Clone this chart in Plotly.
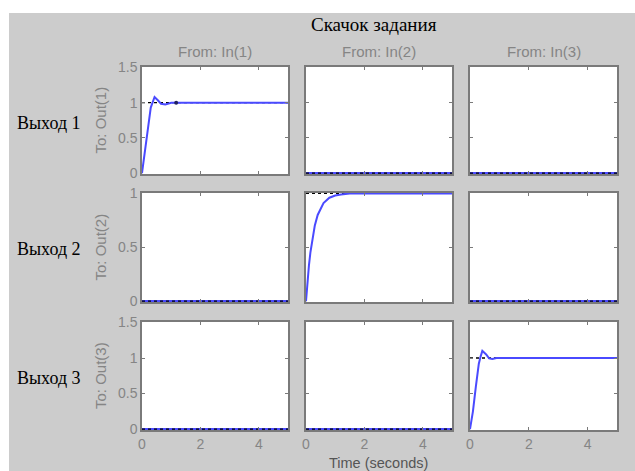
import plotly.graph_objects as go

# ---------------- data ----------------
title_text = "Скачок задания"
input_labels = ["From: In(1)", "From: In(2)", "From: In(3)"]
output_labels = ["To: Out(1)", "To: Out(2)", "To: Out(3)"]
row_names = ["Выход 1", "Выход 2", "Выход 3"]
x_title = "Time (seconds)"

# step responses
t_11 = [0, 0.1, 0.2, 0.3, 0.35, 0.43, 0.55, 0.65, 0.8, 1.0, 5.0]
y_11 = [0, 0.28, 0.62, 0.93, 1.0, 1.08, 1.03, 0.985, 0.975, 1.0, 1.0]

t_22 = [0, 0.02, 0.05, 0.1, 0.15, 0.2, 0.3, 0.4, 0.5, 0.6, 0.8, 1.0, 1.2, 1.5, 5.0]
y_22 = [0, 0.08, 0.18, 0.33, 0.45, 0.55, 0.70, 0.80, 0.86, 0.91, 0.96, 0.98, 0.99, 1.0, 1.0]

t_33 = [0, 0.1, 0.2, 0.3, 0.36, 0.42, 0.55, 0.65, 0.76, 0.9, 5.0]
y_33 = [0, 0.25, 0.6, 0.92, 1.02, 1.10, 1.05, 0.995, 0.985, 1.0, 1.0]

t_zero = [0, 5.0]
y_zero = [0, 0]

settle_t = [1.17]
settle_y = [1.0]

final_values = [[1, 0, 0], [0, 1, 0], [0, 0, 1]]
y_max = [1.5, 1.0, 1.5]
y_tickvals = [[0, 0.5, 1, 1.5], [0, 0.5, 1], [0, 0.5, 1, 1.5]]
y_ticktext = [["0", "0.5", "1", "1.5"], ["0", "0.5", "1"], ["0", "0.5", "1", "1.5"]]
x_tickvals = [0, 2, 4]
t_end = 5.0

responses = {(0, 0): (t_11, y_11), (1, 1): (t_22, y_22), (2, 2): (t_33, y_33)}

# ---------------- layout geometry ----------------
W, H = 635, 471
L, R, T, B = 142, 18, 67, 41
PW, PH = W - L - R, H - T - B


def px_x(px):
    return (px - L) / PW


def px_y(py):
    return (H - B - py) / PH


col_px = [(142, 288), (306, 452), (470, 617)]
row_px = [(67, 174), (193, 302), (322, 430)]
x_dom = [[px_x(a), px_x(b)] for a, b in col_px]
y_dom = [[px_y(b), px_y(a)] for a, b in row_px]

BLUE = "#4a4aff"
GRAY_TXT = "#858585"
FRAME = "#7a7a7a"
SERIF = "Liberation Serif, Times New Roman, serif"

fig = go.Figure()
layout = dict(
    width=W, height=H,
    margin=dict(l=L, r=R, t=T, b=B, pad=0),
    paper_bgcolor="#cccccc",
    plot_bgcolor="white",
    showlegend=False,
    font=dict(family="Liberation Sans, Arial", size=13, color=GRAY_TXT),
)

for r in range(3):
    for c in range(3):
        k = r * 3 + c + 1
        xa = "x" if k == 1 else f"x{k}"
        ya = "y" if k == 1 else f"y{k}"
        fv = final_values[r][c]
        if (r, c) in responses:
            tt, yy = responses[(r, c)]
            fig.add_trace(go.Scatter(x=[0, t_end], y=[fv, fv], mode="lines",
                                     line=dict(color="black", width=1.3, dash="dot"),
                                     xaxis=xa, yaxis=ya, hoverinfo="skip"))
            fig.add_trace(go.Scatter(x=tt, y=yy, mode="lines",
                                     line=dict(color=BLUE, width=2),
                                     xaxis=xa, yaxis=ya))
        else:
            fig.add_trace(go.Scatter(x=t_zero, y=y_zero, mode="lines",
                                     line=dict(color=BLUE, width=2.5),
                                     xaxis=xa, yaxis=ya))
            fig.add_trace(go.Scatter(x=[0, t_end], y=[fv, fv], mode="lines",
                                     line=dict(color="black", width=1.2, dash="dot"),
                                     xaxis=xa, yaxis=ya, hoverinfo="skip"))
        if (r, c) == (0, 0):
            fig.add_trace(go.Scatter(x=settle_t, y=settle_y, mode="markers",
                                     marker=dict(color="#202060", size=4),
                                     xaxis=xa, yaxis=ya))

        xkey = "xaxis" if k == 1 else f"xaxis{k}"
        ykey = "yaxis" if k == 1 else f"yaxis{k}"
        layout[xkey] = dict(
            domain=x_dom[c], anchor=ya, range=[0, t_end],
            tickvals=x_tickvals, ticks="inside", ticklen=3, tickcolor=FRAME,
            showticklabels=(r == 2), showgrid=False, zeroline=False,
            showline=True, linecolor=FRAME, linewidth=1.5, mirror="ticks",
            tickfont=dict(size=14, color=GRAY_TXT), fixedrange=True,
        )
        ymx = y_max[r]
        layout[ykey] = dict(
            domain=y_dom[r], anchor=xa, range=[-0.008 * ymx, ymx * 1.004],
            tickvals=y_tickvals[r], ticktext=y_ticktext[r],
            ticks="inside", ticklen=3, tickcolor=FRAME,
            showticklabels=(c == 0), showgrid=False, zeroline=False,
            showline=True, linecolor=FRAME, linewidth=1.5, mirror="ticks",
            tickfont=dict(size=14, color=GRAY_TXT), fixedrange=True,
        )

annotations = []
annotations.append(dict(text=title_text, x=px_x(373.5), y=px_y(25), xref="paper", yref="paper",
                        showarrow=False, xanchor="center", yanchor="middle",
                        font=dict(family=SERIF, size=19, color="black")))
for c in range(3):
    annotations.append(dict(text=input_labels[c], x=sum(x_dom[c]) / 2, y=px_y(51),
                            xref="paper", yref="paper", showarrow=False,
                            xanchor="center", yanchor="middle",
                            font=dict(size=15, color=GRAY_TXT)))
for r in range(3):
    yc = sum(y_dom[r]) / 2
    annotations.append(dict(text=output_labels[r], x=px_x(100), y=yc, xref="paper", yref="paper",
                            showarrow=False, textangle=-90, xanchor="center", yanchor="middle",
                            font=dict(size=15, color=GRAY_TXT)))
    annotations.append(dict(text=row_names[r], x=px_x(48.5), y=yc - 2.0 / PH, xref="paper", yref="paper",
                            showarrow=False, xanchor="center", yanchor="middle",
                            font=dict(family=SERIF, size=18, color="black")))
annotations.append(dict(text=x_title, x=px_x(378), y=px_y(463), xref="paper", yref="paper",
                        showarrow=False, xanchor="center", yanchor="middle",
                        font=dict(size=14.5, color="#555555")))
layout["annotations"] = annotations

# white strips at top and left outside the gray figure area
layout["shapes"] = [
    dict(type="rect", xref="paper", yref="paper", layer="above",
         x0=px_x(-2), x1=px_x(W + 2), y0=px_y(13), y1=px_y(-2),
         fillcolor="white", line=dict(width=0)),
    dict(type="rect", xref="paper", yref="paper", layer="above",
         x0=px_x(-2), x1=px_x(9), y0=px_y(H + 2), y1=px_y(-2),
         fillcolor="white", line=dict(width=0)),
]

fig.update_layout(**layout)
fig.write_html(
    "out.html",
    config={"displayModeBar": False},
    post_script="document.body.style.margin='0';document.body.style.overflow='hidden';",
)
